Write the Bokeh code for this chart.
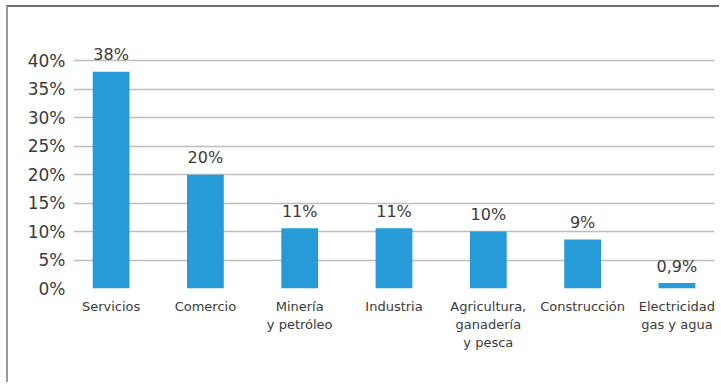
from bokeh.plotting import figure
from bokeh.models import FactorRange, Range1d, FixedTicker, PrintfTickFormatter
from bokeh.core.properties import value
from bokeh.embed import file_html
from bokeh.resources import INLINE

categories = ["Servicios", "Comercio", "Minería\ny petróleo", "Industria",
              "Agricultura,\nganadería\ny pesca", "Construcción", "Electricidad\ngas y agua"]
values = [38.1, 20.0, 10.6, 10.6, 10.0, 8.6, 0.95]
labels = ["38%", "20%", "11%", "11%", "10%", "9%", "0,9%"]
y_ticks = [0, 5, 10, 15, 20, 25, 30, 35, 40]

FONT = "DejaVu Sans"
TEXT = "#3a3a3a"

p = figure(
    width=713, height=377,
    x_range=FactorRange(*categories, range_padding=-0.029),
    y_range=Range1d(0, 44.1),
    output_backend="svg", toolbar_location=None,
    min_border_left=65, min_border_right=7, min_border_top=30, min_border_bottom=96,
    styles={"margin-left": "6px", "margin-top": "5px",
            "border-left": "2px solid #9a9a9a", "border-top": "2px solid #6e6e6e"},
)
p.outline_line_color = None
p.background_fill_color = "white"
p.border_fill_color = "white"

p.vbar(x=categories, top=values, width=0.39, color="#279bd8", line_color=None)
p.text(x=categories, y=values, text=labels, y_offset=-17,
       text_align="center", text_baseline="alphabetic",
       text_font=value(FONT), text_font_size="16px", text_color=TEXT)

p.xgrid.grid_line_color = None
p.ygrid.grid_line_color = "#bdbdbd"
p.ygrid.grid_line_width = 1.5
p.ygrid.ticker = FixedTicker(ticks=y_ticks)

p.yaxis.ticker = FixedTicker(ticks=y_ticks)
p.yaxis.formatter = PrintfTickFormatter(format="%d%%")
p.yaxis.axis_line_color = None
p.yaxis.major_tick_line_color = None
p.yaxis.minor_tick_line_color = None
p.yaxis.major_tick_out = 0
p.yaxis.major_tick_in = 0
p.yaxis.minor_tick_out = 0
p.yaxis.major_label_standoff = 8
p.yaxis.major_label_text_font = FONT
p.yaxis.major_label_text_font_size = "17px"
p.yaxis.major_label_text_color = TEXT

p.xaxis.axis_line_color = None
p.xaxis.major_tick_line_color = None
p.xaxis.minor_tick_line_color = None
p.xaxis.major_tick_out = 0
p.xaxis.major_tick_in = 0
p.xaxis.minor_tick_out = 0
p.xaxis.major_label_standoff = 10
p.xaxis.major_label_text_font = FONT
p.xaxis.major_label_text_font_size = "13px"
p.xaxis.major_label_text_color = TEXT

open("out.html", "w").write(file_html(p, INLINE))
